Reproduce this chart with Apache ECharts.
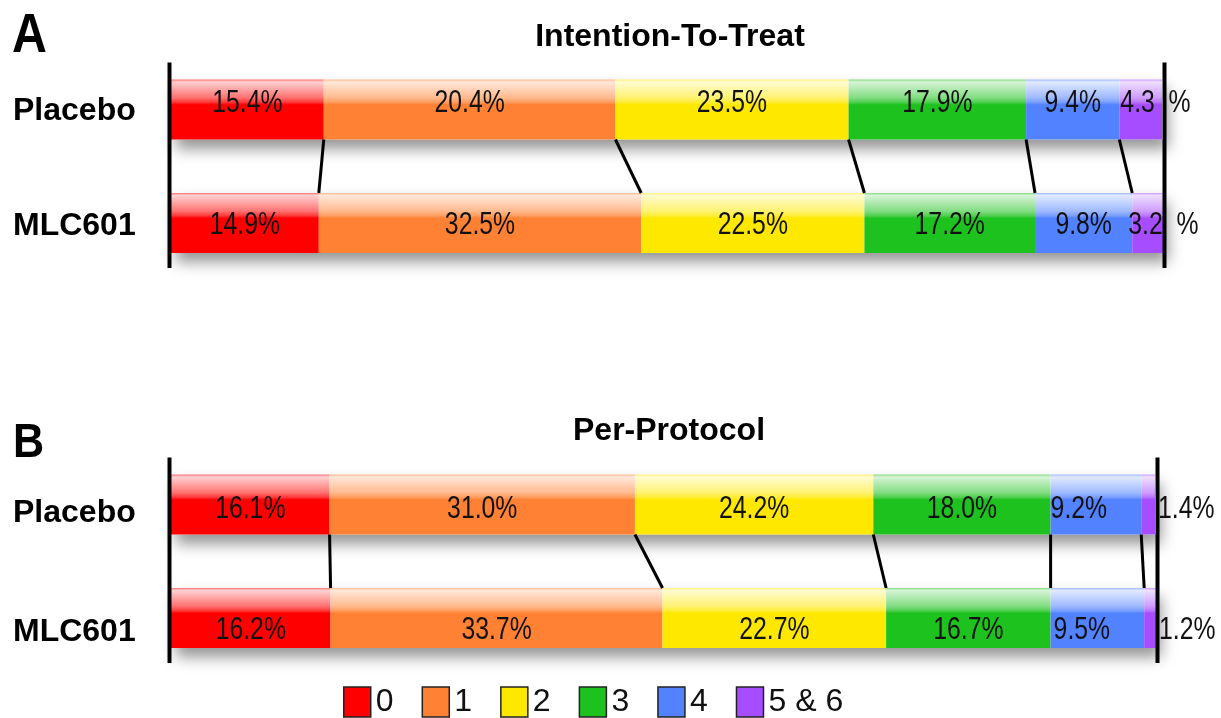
<!DOCTYPE html>
<html><head><meta charset="utf-8">
<script src="https://cdn.jsdelivr.net/npm/echarts@6/dist/echarts.min.js"></script>
<style>html,body{margin:0;padding:0;background:#fff}#c{width:1221px;height:718px}</style>
</head><body><div id="c"></div>
<script>
// ---------- data ----------
const groups = ['Placebo', 'MLC601'];
const scoreNames = ['0', '1', '2', '3', '4', '5 & 6'];
const colors = ['#ff0000', '#ff8133', '#ffe800', '#1ec21e', '#5282ff', '#a64dff'];

// Panel A: Intention-To-Treat (segment widths)
const ittPlacebo = [15.4, 29.4, 23.5, 17.9, 9.4, 4.3];
const ittMLC601  = [14.9, 32.5, 22.5, 17.2, 9.8, 3.2];
// printed labels as they appear in the figure
const ittPlaceboLabels = ['15.4%', '20.4%', '23.5%', '17.9%', '9.4%', '4.3  %'];
const ittMLC601Labels  = ['14.9%', '32.5%', '22.5%', '17.2%', '9.8%', '3.2  %'];

// Panel B: Per-Protocol
const ppPlacebo = [16.1, 31.0, 24.2, 18.0, 9.2, 1.4];
const ppMLC601  = [16.2, 33.7, 22.7, 16.7, 9.5, 1.2];
const ppPlaceboLabels = ['16.1%', '31.0%', '24.2%', '18.0%', '9.2%', '1.4%'];
const ppMLC601Labels  = ['16.2%', '33.7%', '22.7%', '16.7%', '9.5%', '1.2%'];

const panelTitles = ['Intention-To-Treat', 'Per-Protocol'];
const panelLetters = ['A', 'B'];

// ---------- styling ----------
const SANS = "'Liberation Sans', Arial, sans-serif";
const BAR_H = 60;
const LABEL_SCALE_X = 0.8;

function mix(hex, t) { // mix with white
  const n = parseInt(hex.slice(1), 16);
  const r = (n >> 16) & 255, g = (n >> 8) & 255, b = n & 255;
  const f = c => Math.round(c + (255 - c) * t);
  return 'rgb(' + f(r) + ',' + f(g) + ',' + f(b) + ')';
}
function gloss(hex) {
  return new echarts.graphic.LinearGradient(0, 0, 0, 1, [
    { offset: 0, color: mix(hex, 0.45) },
    { offset: 0.04, color: mix(hex, 0.82) },
    { offset: 0.3, color: mix(hex, 0.45) },
    { offset: 0.38, color: mix(hex, 0.22) },
    { offset: 0.42, color: hex },
    { offset: 1, color: hex }
  ]);
}

const panels = [
  { rows: [ittPlacebo, ittMLC601], labels: [ittPlaceboLabels, ittMLC601Labels],
    grid: { left: 171, right: 58, top: 52.75, height: 227 }, rowDy: [-6, 2], catDy: [1.5, 3.5],
    tweaks: { '0-5': { position: 'insideLeft', distance: 1 }, '1-5': { position: 'insideLeft', distance: 0, dx: -4 } } },
  { rows: [ppPlacebo, ppMLC601], labels: [ppPlaceboLabels, ppMLC601Labels],
    grid: { left: 171, right: 65, top: 447.75, height: 227 }, rowDy: [5, 12], catDy: [9, 14],
    tweaks: { '0-4': { position: 'insideLeft', distance: 0 }, '1-4': { position: 'insideLeft', distance: 3 },
              '0-5': { position: 'right', distance: 3 }, '1-5': { position: 'right', distance: 3 } } }
];

const grids = [], xAxes = [], yAxes = [], series = [];
panels.forEach((p, pi) => {
  grids.push(p.grid);
  xAxes.push({ type: 'value', gridIndex: pi, min: 0, max: 100, show: false });
  const rich = {};
  p.catDy.forEach((d, i) => { rich['r' + i] = { padding: [2 * d, 0, 0, 0], fontSize: 32, fontWeight: 'bold', fontFamily: SANS, color: '#000' }; });
  yAxes.push({ type: 'category', gridIndex: pi, data: groups, inverse: true,
    axisLine: { show: false }, axisTick: { show: false }, splitLine: { show: false },
    axisLabel: { margin: 158, align: 'left', fontSize: 32, fontWeight: 'bold', fontFamily: SANS, color: '#000',
      formatter: (v, i) => '{r' + i + '|' + v + '}', rich: rich } });

  // shadow behind each bar row
  series.push({ type: 'custom', xAxisIndex: pi, yAxisIndex: pi, z: 1, silent: true,
    encode: { x: [0, 1], y: 2 },
    data: groups.map((g, r) => [0, 100, r]),
    renderItem: (params, api) => {
      const a = api.coord([api.value(0), api.value(2)]);
      const b = api.coord([api.value(1), api.value(2)]);
      return { type: 'rect', shape: { x: a[0], y: a[1] - BAR_H / 2, width: b[0] - a[0], height: BAR_H },
        style: { fill: '#fff', shadowBlur: 14, shadowColor: 'rgba(0,0,0,0.42)', shadowOffsetX: 5, shadowOffsetY: 9 } };
    } });

  // stacked segments
  scoreNames.forEach((name, s) => {
    series.push({ type: 'bar', name: name, stack: 'p' + pi, xAxisIndex: pi, yAxisIndex: pi,
      barWidth: BAR_H, z: 2, itemStyle: { color: colors[s] },
      data: p.rows.map(row => ({ value: row[s], itemStyle: { color: gloss(colors[s]) } })) });
  });

  // segment value labels (narrow text), placed from the same stacked values
  const segs = [];
  p.rows.forEach((row, r) => {
    let c = 0;
    row.forEach((v, s) => { segs.push([c, c + v, r, s]); c += v; });
  });
  series.push({ type: 'custom', xAxisIndex: pi, yAxisIndex: pi, z: 4, silent: true,
    encode: { x: [0, 1], y: 2 },
    data: segs,
    renderItem: (params, api) => {
      const r = api.value(2), s = api.value(3);
      const a = api.coord([api.value(0), r]);
      const b = api.coord([api.value(1), r]);
      const tw = p.tweaks[r + '-' + s] || {};
      let x, align = 'left';
      if (tw.position === 'insideLeft') x = a[0] + tw.distance;
      else if (tw.position === 'right') x = b[0] + tw.distance;
      else { x = (a[0] + b[0]) / 2; align = 'center'; }
      x += tw.dx || 0;
      return { type: 'text', x: x, y: a[1] + p.rowDy[r], scaleX: LABEL_SCALE_X, scaleY: 1,
        style: { text: p.labels[r][s], align: align, verticalAlign: 'middle', fontSize: 31, fontFamily: SANS, fill: '#111' } };
    } });

  // boundaries: axis lines at 0/100 and connectors between segment edges
  const cumP = [0], cumM = [0];
  p.rows[0].forEach(v => cumP.push(cumP[cumP.length - 1] + v));
  p.rows[1].forEach(v => cumM.push(cumM[cumM.length - 1] + v));
  const bnd = cumP.map((c, k) => (k === 0 ? [0, 0, 0] : k === cumP.length - 1 ? [100, 100, 0] : [c, cumM[k], 0]));
  series.push({ type: 'custom', xAxisIndex: pi, yAxisIndex: pi, z: 5, silent: true,
    encode: { x: [0, 1], y: 2 },
    data: bnd,
    renderItem: (params, api) => {
      const k = params.dataIndex, last = bnd.length - 1;
      const a = api.coord([api.value(0), 0]);
      const b = api.coord([api.value(1), 1]);
      if (k === 0 || k === last) {
        const x = a[0] + (k === 0 ? -1.5 : 1.5);
        return { type: 'line', shape: { x1: x, y1: a[1] - BAR_H / 2 - 17, x2: x, y2: b[1] + BAR_H / 2 + 15 },
          style: { stroke: '#000', lineWidth: 4 } };
      }
      return { type: 'line', shape: { x1: a[0], y1: a[1] + BAR_H / 2, x2: b[0], y2: b[1] - BAR_H / 2 },
        style: { stroke: '#000', lineWidth: 3 } };
    } });
});

const chart = echarts.init(document.getElementById('c'), null, { renderer: 'canvas' });
chart.setOption({
  animation: false,
  backgroundColor: '#fff',
  grid: grids, xAxis: xAxes, yAxis: yAxes, series: series,
  legend: { left: 343, top: 686, padding: 0, itemWidth: 27, itemHeight: 30, itemGap: 28, icon: 'rect', selectedMode: false,
    textStyle: { fontSize: 32, fontFamily: SANS, color: '#111' },
    itemStyle: { borderColor: '#222', borderWidth: 1.5 },
    data: scoreNames.map((n, i) => ({ name: n, itemStyle: { color: colors[i] } })) },
  graphic: [
    { type: 'text', x: 12, y: 37, scaleX: 0.88, style: { text: panelLetters[0], align: 'left', verticalAlign: 'middle', fontSize: 55, fontWeight: 'bold', fontFamily: SANS, fill: '#000' } },
    { type: 'text', x: 670, y: 36.7, style: { text: panelTitles[0], align: 'center', verticalAlign: 'middle', fontSize: 32, fontWeight: 'bold', fontFamily: SANS, fill: '#000' } },
    { type: 'text', x: 13, y: 443, scaleX: 0.88, style: { text: panelLetters[1], align: 'left', verticalAlign: 'middle', fontSize: 49, fontWeight: 'bold', fontFamily: SANS, fill: '#000' } },
    { type: 'text', x: 669, y: 430.7, style: { text: panelTitles[1], align: 'center', verticalAlign: 'middle', fontSize: 32, fontWeight: 'bold', fontFamily: SANS, fill: '#000' } }
  ]
});
</script></body></html>
